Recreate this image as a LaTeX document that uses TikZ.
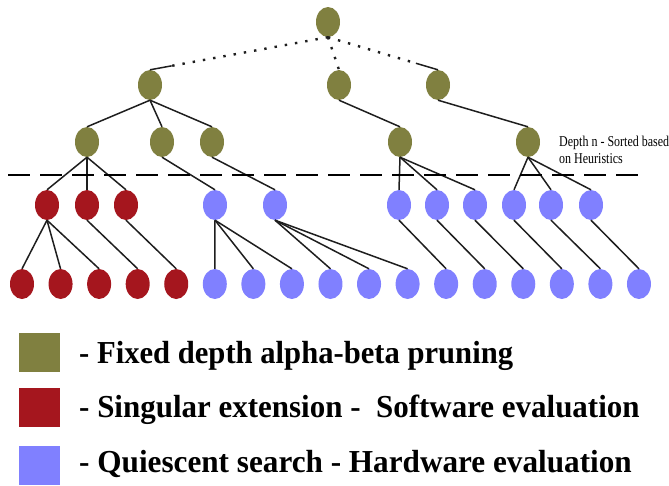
\documentclass[tikz,border=0pt]{standalone}
\usepackage{fontspec}
\usepackage{graphicx}
\setmainfont{Liberation Serif}
\usetikzlibrary{shapes.geometric,calc}
\definecolor{olivenode}{RGB}{128,128,64}
\definecolor{rednode}{RGB}{165,22,30}
\definecolor{bluenode}{RGB}{128,128,255}
\definecolor{edgecol}{RGB}{30,30,30}
\tikzset{
  tn/.style={ellipse,inner sep=0pt,minimum width=24pt,minimum height=30pt,draw=none},
  on/.style={tn,fill=olivenode},
  rn/.style={tn,fill=rednode},
  bn/.style={tn,fill=bluenode},
  edge/.style={draw=edgecol,line width=1.5pt},
  dotedge/.style={draw=edgecol,line width=2.4pt,dash pattern=on 2.4pt off 8pt},
  depthline/.style={draw=black,line width=2.6pt,dash pattern=on 22pt off 10pt},
  legbox/.style={inner sep=0pt,minimum width=41pt,minimum height=39pt,anchor=north west},
  legtext/.style={anchor=base west,inner sep=0pt,font=\fontsize{32}{36}\selectfont\bfseries},
  notetext/.style={anchor=base west,inner sep=0pt,font=\fontsize{15}{17}\selectfont}
}
\begin{document}
\begin{tikzpicture}[x=1pt,y=-1pt]
\useasboundingbox (0,0) rectangle (669,485);
% root and level 1
\node[on] (r) at (328,22) {};
\node[on] (a1) at (150,85) {};
\node[on] (a2) at (339,85) {};
\node[on] (a3) at (438,85) {};
% level 2
\foreach \i/\x in {1/87,2/162,3/212,4/400,5/528}
  \node[on] (b\i) at (\x,142) {};
% level 3
\foreach \i/\x in {1/47,2/87,3/126}
  \node[rn] (c\i) at (\x,205) {};
\foreach \i/\x in {4/215,5/275,6/399,7/437,8/475,9/514,10/551,11/591}
  \node[bn] (c\i) at (\x,205) {};
% level 4
\foreach \i in {1,...,5}
  \node[rn] (d\i) at ({22+38.56*(\i-1)},284) {};
\foreach \i in {6,...,17}
  \node[bn] (d\i) at ({22+38.56*(\i-1)},284) {};
% root connectors
\coordinate (s1) at ($(a1.north)!22pt!(r.south)$);
\coordinate (s3) at ($(a3.north)!23pt!(r.south)$);
\draw[dotedge] (r.south) -- (s1);
\draw[edge] (s1) -- (a1.north);
\draw[dotedge] (r.south) -- (a2.north);
\draw[dotedge] (r.south) -- (s3);
\draw[edge] (s3) -- (a3.north);
% level1 -> level2
\foreach \p/\c in {a1/b1,a1/b2,a1/b3,a2/b4,a3/b5}
  \draw[edge] (\p.south) -- (\c.north);
% level2 -> level3
\foreach \p/\c in {b1/c1,b1/c2,b1/c3,b2/c4,b3/c5,b4/c6,b4/c7,b4/c8,b5/c9,b5/c10,b5/c11}
  \draw[edge] (\p.south) -- (\c.north);
% level3 -> level4
\foreach \p/\c in {c1/d1,c1/d2,c1/d3,c2/d4,c3/d5,c4/d6,c4/d7,c4/d8,c5/d9,c5/d10,c5/d11,c6/d12,c7/d13,c8/d14,c9/d15,c10/d16,c11/d17}
  \draw[edge] (\p.south) -- (\c.north);
% depth line
\coordinate (dl) at (8,175);
\coordinate (dr) at (648,175);
\draw[depthline] (dl) -- (dr);
\node[notetext] (n1) at (559,146) {\scalebox{0.8}[1]{Depth n - Sorted based}};
\node[notetext] (n2) at (559,163) {\scalebox{0.8}[1]{on Heuristics}};
% legend
\node[legbox,fill=olivenode] (k1) at (19,333) {};
\node[legbox,fill=rednode] (k2) at (19,388) {};
\node[legbox,fill=bluenode] (k3) at (19,446) {};
\node[legtext] (t1) at (79,363) {\scalebox{0.957}[1]{- Fixed depth alpha-beta pruning}};
\node[legtext] (t2) at (79,417) {\scalebox{0.968}[1]{- Singular extension -~ Software evaluation}};
\node[legtext] (t3) at (79,472) {\scalebox{0.975}[1]{- Quiescent search - Hardware evaluation}};
\end{tikzpicture}
\end{document}
